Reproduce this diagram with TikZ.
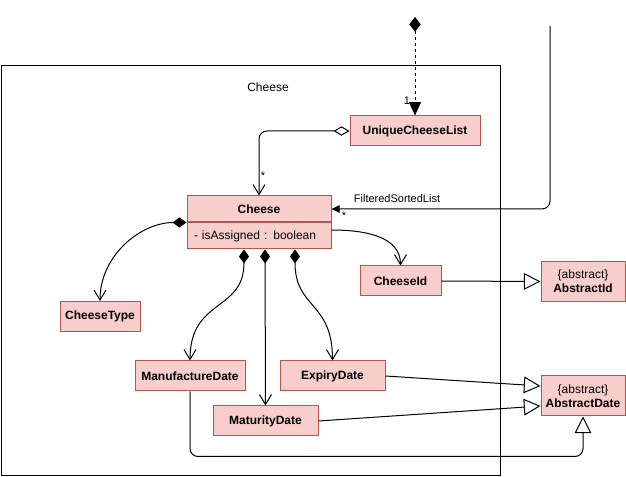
\documentclass[tikz,border=0pt]{standalone}
\usepackage{fontspec}
\setmainfont{Liberation Sans}
\usetikzlibrary{calc,positioning,arrows.meta}
\definecolor{boxpink}{HTML}{F8CECC}
\definecolor{boxred}{HTML}{B85450}

\begin{document}
\begin{tikzpicture}[x=0.75pt,y=-0.75pt,
  classbox/.style={rectangle,draw=boxred,fill=boxpink,line width=0.75pt,minimum height=22.5pt,inner sep=0pt,align=center,font=\fontsize{9}{10.8}\selectfont\bfseries},
  absbox/.style={classbox,minimum width=63pt,minimum height=30pt},
  small/.style={font=\fontsize{8.25}{9.9}\selectfont},
  conn/.style={line width=0.75pt},
  comp/.style={conn,arrows={Diamond[length=10.5pt,width=7.5pt]-Straight Barb[length=7.5pt,width=9pt]}},
  assoc/.style={conn,arrows={-Straight Barb[length=7.5pt,width=9pt]}},
  gen/.style={conn,arrows={-Triangle[open,fill=white,length=12.5pt,width=12.5pt]}}]

  \useasboundingbox (0,0) rectangle (626,477);

  % package frame
  \node (pkg) [draw,line width=0.75pt,minimum width=374.25pt,minimum height=307.5pt,inner sep=0pt] at (250.5,271) {};
  \node (pkgname) [font=\fontsize{9}{10.8}\selectfont] at (268,87) {Cheese};

  % classes
  \node (ulist) [classbox,minimum width=97.5pt] at (415,131) {UniqueCheeseList};
  \node (cheese) [classbox,minimum width=108pt,minimum height=19.5pt] at (259,209) {Cheese};
  \node (cheeseattr) [classbox,anchor=north,minimum height=19.5pt,inner xsep=5.25pt,text width=97.5pt,align=left,font=\fontsize{9}{10.8}\selectfont] at (cheese.south) {- isAssigned : boolean};
  \node (cid) [classbox,minimum width=60.75pt] at (400.5,281) {CheeseId};
  \node (absid) [absbox] at (583,281.5) {{\mdseries\{abstract\}}\\AbstractId};
  \node (ctype) [classbox,minimum width=60pt] at (100,316.5) {CheeseType};
  \node (manu) [classbox,minimum width=82.5pt] at (190,376) {ManufactureDate};
  \node (expiry) [classbox,minimum width=78.75pt] at (332.5,376) {ExpiryDate};
  \node (matur) [classbox,minimum width=78.75pt] at ($(manu)+(75.5,45)$) {MaturityDate};
  \node (absdate) [absbox] at (583,396) {{\mdseries\{abstract\}}\\AbstractDate};

  % outside ends
  \coordinate (topsrc) at (415,17);
  \coordinate (fsltop) at (550,26);

  \draw[conn,dash pattern=on 2.25pt off 2.25pt,arrows={Diamond[length=11pt,width=8.5pt]-Triangle[length=10pt,width=9pt]}] (topsrc) -- (ulist.north);
  \node (one) [small] at (407,101) {1};

  \draw[conn,rounded corners=6pt,arrows={Diamond[open,fill=white,length=12pt,width=7pt]-Straight Barb[length=7.5pt,width=9pt]}] (ulist.west) -| (cheese.north);
  \node (many1) [small] at (263,176) {*};

  \draw[conn,rounded corners=6pt,arrows={-Triangle[length=6pt,width=5.5pt]}] (fsltop) |- (cheese.east);
  \node (fsl) [small] at (397,199) {FilteredSortedList};
  \node (many2) [small] at (344,216) {*};

  % composition
  \draw[comp] (cheese.south west) to[out=180,in=90] (ctype.north);
  \draw[assoc] ($(cheeseattr.east)+(0,-6)$) to[out=0,in=90] (cid.north);
  \draw[comp] ($(cheeseattr.south)+(-15,0)$) to[out=-90,in=90,looseness=1.3] (manu.north);
  \draw[comp] ($(cheeseattr.south)+(6,0)$) -- (matur.north);
  \draw[comp] ($(cheeseattr.south)+(36,0)$) to[out=-90,in=90,looseness=1.3] (expiry.north);

  % generalisation
  \draw[gen] (cid.east) -- (absid.west);
  \draw[gen] (expiry.east) -- ($(absdate.west)+(0,-10)$);
  \draw[gen] (matur.east) -- ($(absdate.west)+(0,10)$);
  \draw[gen,rounded corners=6pt] (manu.south) |- ($(absdate.south)+(0,40)$) -- (absdate.south);

\end{tikzpicture}
\end{document}
